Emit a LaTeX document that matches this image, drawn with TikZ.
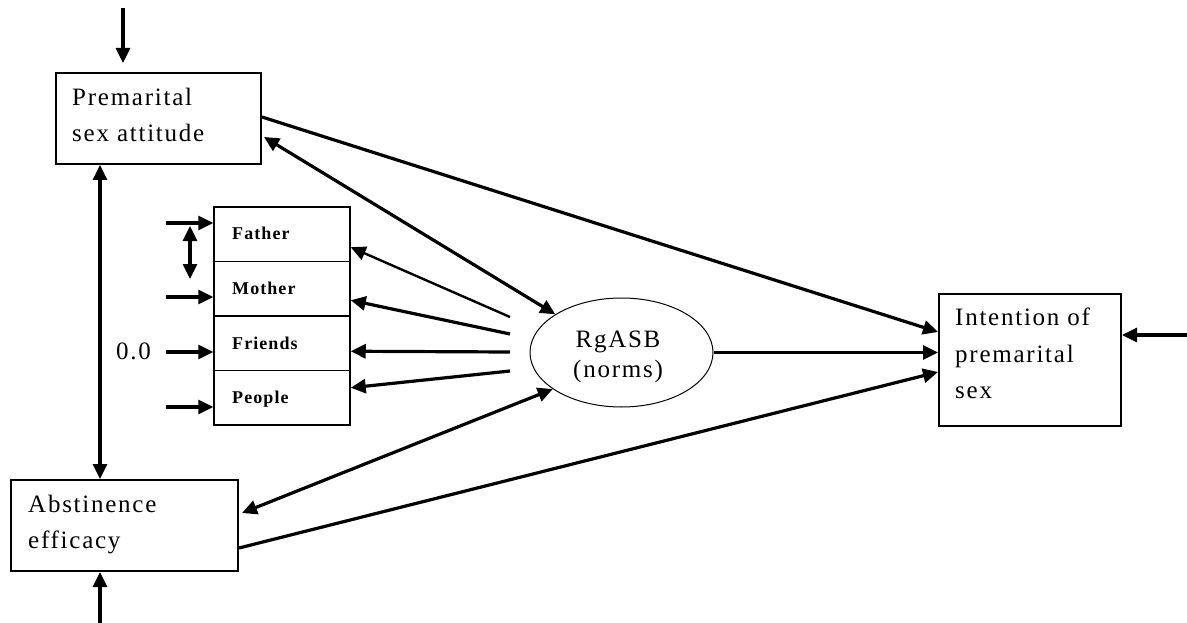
\documentclass[tikz,border=0pt]{standalone}
\usepackage{fontspec}
\setmainfont{Liberation Serif}
\newfontfamily\labfont{Liberation Serif}[LetterSpace=7]
\newfontfamily\cellfont{Liberation Serif}[LetterSpace=6]
\usetikzlibrary{arrows.meta,shapes.geometric,calc}
\begin{document}
\begin{tikzpicture}[x=1pt,y=-1pt,
  box/.style={draw,line width=2pt,inner sep=0,anchor=north west},
  cell/.style={draw,line width=1.5pt,minimum width=136pt,minimum height=54.5pt,inner sep=0},
  big/.style={inner sep=0,font=\labfont\fontsize{25}{30}\selectfont},
  lbl/.style={big,anchor=base west},
  clbl/.style={anchor=base west,inner sep=0,font=\cellfont\bfseries\fontsize{18}{22}\selectfont},
  tip/.tip={Triangle[length=15pt,width=14pt]},
  conn/.style={line width=3.2pt,-tip},
  both/.style={line width=3.2pt,tip-tip}
]
\fill[white] (0,0) rectangle (1187,623);
\useasboundingbox (0,0) rectangle (1187,623);

% construct boxes
\node[box,minimum width=205pt,minimum height=91pt] (pa) at (55,72) {};
\node[lbl] (pa-t1) at (72,106) {Premarital};
\node[lbl] (pa-t2) at (72,142) {sex attitude};

\node[box,minimum width=227pt,minimum height=91pt] (ae) at (10,479) {};
\node[lbl] (ae-t1) at (28,512) {Abstinence};
\node[lbl] (ae-t2) at (28,548) {efficacy};

\node[box,minimum width=182pt,minimum height=132pt] (in) at (938,293) {};
\node[lbl] (in-t1) at (955,325) {Intention of};
\node[lbl] (in-t2) at (955,362) {premarital};
\node[lbl] (in-t3) at (955,398) {sex};

% normative referents
\node[cell] (fa) at (282,234.25) {};
\node[cell] (mo) at (282,288.75) {};
\node[cell] (fr) at (282,343.25) {};
\node[cell] (pe) at (282,397.75) {};
\node[clbl] (fa-t) at (232,240) {Father};
\node[clbl] (mo-t) at (232,294) {Mother};
\node[clbl] (fr-t) at (232,349) {Friends};
\node[clbl] (pe-t) at (232,403) {People};

% latent norms
\node[ellipse,draw,line width=1pt,minimum width=183pt,minimum height=109pt,inner sep=0] (rg) at (621.5,352.5) {};
\node[big,anchor=base] (rg-t1) at (618,347) {RgASB};
\node[big,anchor=base] (rg-t2) at (618,377) {(norms)};

\node[big,anchor=base west] (zero) at (116,359) {0.0};

% disturbance inputs
\coordinate (pa-src) at (123,8);
\coordinate (ae-src) at (100,623);
\coordinate (in-src) at (1187,335);
\coordinate (fa-src) at (166,223);
\coordinate (mo-src) at (166,297);
\coordinate (fr-src) at (166,352);
\coordinate (pe-src) at (166,407);
\coordinate (fm-a) at (190,226);
\coordinate (fm-b) at (190,279);
\coordinate (vx) at (100,0);

\draw[conn,shorten >=9pt] (pa-src) -- (pa-src |- pa.north);
\draw[conn] (ae-src) -- (ae-src |- ae.south);
\draw[conn] (in-src) -- (in-src -| in.east);
\draw[conn] (fa-src) -- (fa-src -| fa.west);
\draw[conn] (mo-src) -- (mo-src -| mo.west);
\draw[conn] (fr-src) -- (fr-src -| fr.west);
\draw[conn] (pe-src) -- (pe-src -| pe.west);
\draw[both] (fm-a) -- (fm-b);

% correlation between the two exogenous constructs
\draw[both] (vx |- pa.south) -- (vx |- ae.north);

% norms to referents
\coordinate (n1) at (510,317);
\coordinate (n2) at (510,334);
\coordinate (n3) at (510,352);
\coordinate (n4) at (510,371);
\draw[line width=2.4pt,-tip] (n1) -- ($(fa.east)+(0,13)$);
\draw[conn] (n2) -- ($(mo.east)+(0,11.5)$);
\draw[conn] (n3) -- ($(fr.east)+(0,8)$);
\draw[conn] (n4) -- ($(pe.east)+(0,-10)$);

% structural paths
\draw[both] ($(pa.north east)+(2,65)$) -- (rg.150);
\draw[both] ($(ae.north east)+(3,34)$) -- (rg.208);
\draw[conn] ($(pa.north east)+(0,45)$) -- ($(in.north west)+(0,39)$);
\draw[conn] (rg.east) -- (rg.east -| in.west);
\draw[conn] ($(ae.north east)+(0,69)$) -- ($(in.north west)+(0,79)$);
\end{tikzpicture}
\end{document}
